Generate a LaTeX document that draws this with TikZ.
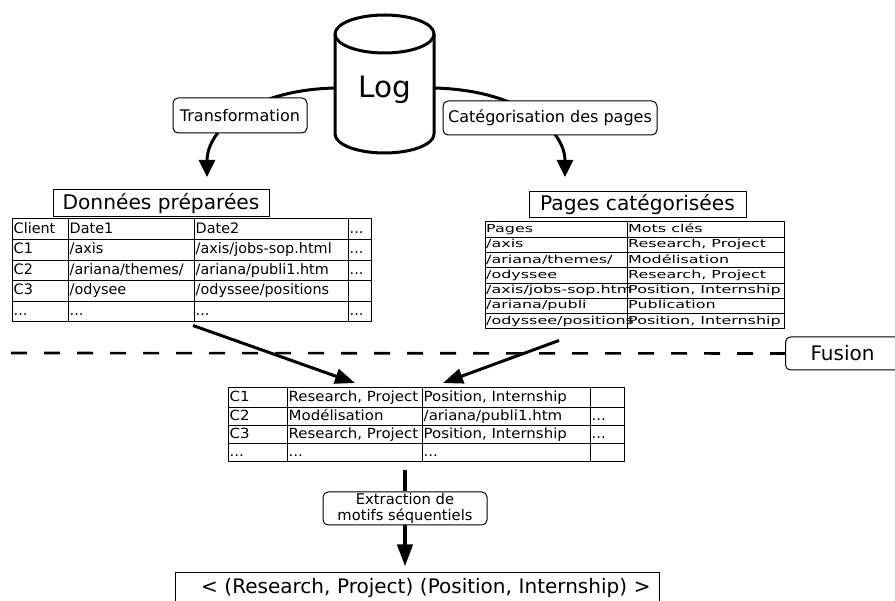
\documentclass[tikz,border=0pt]{standalone}
\usepackage{fontspec}
\setmainfont{DejaVu Sans}
\newfontfamily\widedv[FakeStretch=1.45]{DejaVu Sans}
\newfontfamily\semidv[FakeStretch=1.07]{DejaVu Sans}
\usetikzlibrary{arrows.meta,calc,positioning}
\newcommand{\etcdots}{...}

\begin{document}
\begin{tikzpicture}[x=1pt,y=-1pt,
    procbox/.style={draw,fill=white,rounded corners=5pt,line width=1pt,inner sep=0pt,
      font=\fontsize{16}{17}\selectfont},
    titlebox/.style={draw,fill=white,line width=1pt,inner sep=0pt,
      font=\fontsize{20.2}{22}\selectfont},
    frame/.style={draw,line width=1pt,inner sep=0pt},
    gridline/.style={line width=1pt},
    cellA/.style={anchor=west,inner sep=0pt,text height=10.5pt,text depth=3pt,
      font=\fontsize{14.4}{16}\selectfont},
    cellB/.style={anchor=west,inner sep=0pt,text height=8pt,text depth=2.3pt,
      font=\widedv\fontsize{11}{12}\selectfont},
    cellC/.style={anchor=west,inner sep=0pt,text height=10pt,text depth=3pt,
      font=\semidv\fontsize{14}{15}\selectfont},
    bigarrow/.style={line width=3pt,-{Triangle[length=17pt,width=16pt]}},
    fatarrow/.style={line width=3pt,-{Triangle[length=20pt,width=15pt]}},
    stem/.style={line width=4pt}]
\clip (0,0) rectangle (895,601);

% the log as a cylinder
\draw[line width=3pt] (384.5,34) ellipse [x radius=49.5, y radius=19];
\draw[line width=3pt] (335,34) -- (335,134)
    arc[start angle=180, end angle=0, x radius=49.5, y radius=19] -- (434,34);
\node[inner sep=0pt,font=\fontsize{29.5}{32}\selectfont] (log) at (385,90) {Log};
\coordinate (logL) at (335,88);
\coordinate (logR) at (434,88);
\coordinate (tipA) at (207,177);
\coordinate (tipB) at (565,177);

\draw[bigarrow] (logL) .. controls (250,90) and (207,130) .. (tipA);
\draw[bigarrow] (logR) .. controls (520,90) and (565,130) .. (tipB);

\node[procbox,minimum width=134pt,minimum height=35pt] (trans) at (240,115.5) {Transformation};
\node[procbox,minimum width=214pt,minimum height=34pt] (categ) at (550,118) {Catégorisation des pages};

% prepared data
\node[titlebox,minimum width=216pt,minimum height=27pt] (prep) at (161,203.5) {Données préparées};
\node[frame,minimum width=359pt,minimum height=103pt] (tabA) at (191.5,270.5) {};
\foreach \y in {239.6,260.2,280.8,301.4}
    \draw[gridline] (tabA.west |- 0,\y) -- (tabA.east |- 0,\y);
\foreach \x in {68,194,348}
    \draw[gridline] (\x,0 |- tabA.north) -- (\x,0 |- tabA.south);
\foreach \t [count=\i from 0] in {Client,Date1,Date2,\etcdots,
    C1,{/axis},{/axis/jobs-sop.html},\etcdots,
    C2,{/ariana/themes/},{/ariana/publi1.htm},\etcdots,
    C3,{/odysee},{/odyssee/positions},{},
    \etcdots,\etcdots,\etcdots,\etcdots}{
  \pgfmathtruncatemacro\cc{mod(\i,4)}
  \pgfmathtruncatemacro\rr{div(\i,4)}
  \pgfmathsetmacro\xx{{12,68,194,348}[\cc]}
  \node[cellA] (a-\rr-\cc) at (\xx+1.5,229.3+20.6*\rr) {\t};
}

% categorised pages
\node[titlebox,minimum width=217pt,minimum height=26pt] (pages) at (637.5,205) {Pages catégorisées};
\node[frame,minimum width=299pt,minimum height=107pt] (tabB) at (634.5,275.5) {};
\foreach \r in {1,...,6}
    \draw[gridline] (tabB.west |- 0,222+15.286*\r) -- (tabB.east |- 0,222+15.286*\r);
\draw[gridline] (627,0 |- tabB.north) -- (627,0 |- tabB.south);
\foreach \t [count=\i from 0] in {Pages,Mots clés,
    {/axis},{Research, Project},
    {/ariana/themes/},Modélisation,
    {/odyssee},{Research, Project},
    {/axis/jobs-sop.htm},{Position, Internship},
    {/ariana/publi},Publication,
    {/odyssee/positions},{Position, Internship}}{
  \pgfmathtruncatemacro\cc{mod(\i,2)}
  \pgfmathtruncatemacro\rr{div(\i,2)}
  \pgfmathsetmacro\xx{{485,627}[\cc]}
  \node[cellB] (b-\rr-\cc) at (\xx+1,229.6+15.286*\rr) {\t};
}

% fusion
\node[procbox,font=\fontsize{20}{22}\selectfont,minimum width=114pt,minimum height=33pt,
    anchor=west] (fusion) at (785,353.5) {Fusion};
\draw[line width=2.6pt,dash pattern=on 16pt off 17pt] (11,353) -- (fusion.west);

\node[frame,minimum width=396pt,minimum height=74pt] (tabC) at (426,425) {};
\foreach \y in {408,426,444}
    \draw[gridline] (tabC.west |- 0,\y) -- (tabC.east |- 0,\y);
\foreach \x in {287,422,590}
    \draw[gridline] (\x,0 |- tabC.north) -- (\x,0 |- tabC.south);
\foreach \t [count=\i from 0] in {C1,{Research, Project},{Position, Internship},{},
    C2,Modélisation,{/ariana/publi1.htm},\etcdots,
    C3,{Research, Project},{Position, Internship},\etcdots,
    \etcdots,\etcdots,\etcdots,{}}{
  \pgfmathtruncatemacro\cc{mod(\i,4)}
  \pgfmathtruncatemacro\rr{div(\i,4)}
  \pgfmathsetmacro\xx{{228,287,422,590}[\cc]}
  \pgfmathsetmacro\yy{{398,417,435,453}[\rr]}
  \node[cellC] (c-\rr-\cc) at (\xx+1.5,\yy) {\t};
}

\draw[fatarrow] ($(tabA.south)+(1.5,3)$) -- (355,383);
\draw[fatarrow] ($(tabB.south)+(-75.5,11)$) -- (443,383);

% sequential patterns
\node[procbox,align=center,font=\fontsize{14.7}{16}\selectfont,minimum width=164pt,
    minimum height=33pt] (extr) at (405,508.5) {Extraction de\\motifs séquentiels};
\node[draw,line width=1pt,anchor=west,minimum height=30pt,inner sep=0pt,inner xsep=9pt,
    text width=466pt,align=right,font=\fontsize{20}{22}\selectfont] (motif) at (175,588)
    {< (Research, Project) (Position, Internship) >};
\coordinate (cut) at (405,470);
\draw[stem] (cut) -- (extr.north);
\draw[stem,-{Triangle[length=22pt,width=15pt]},shorten >=6pt] (extr.south) -- (extr.south |- motif.north);
\end{tikzpicture}
\end{document}
